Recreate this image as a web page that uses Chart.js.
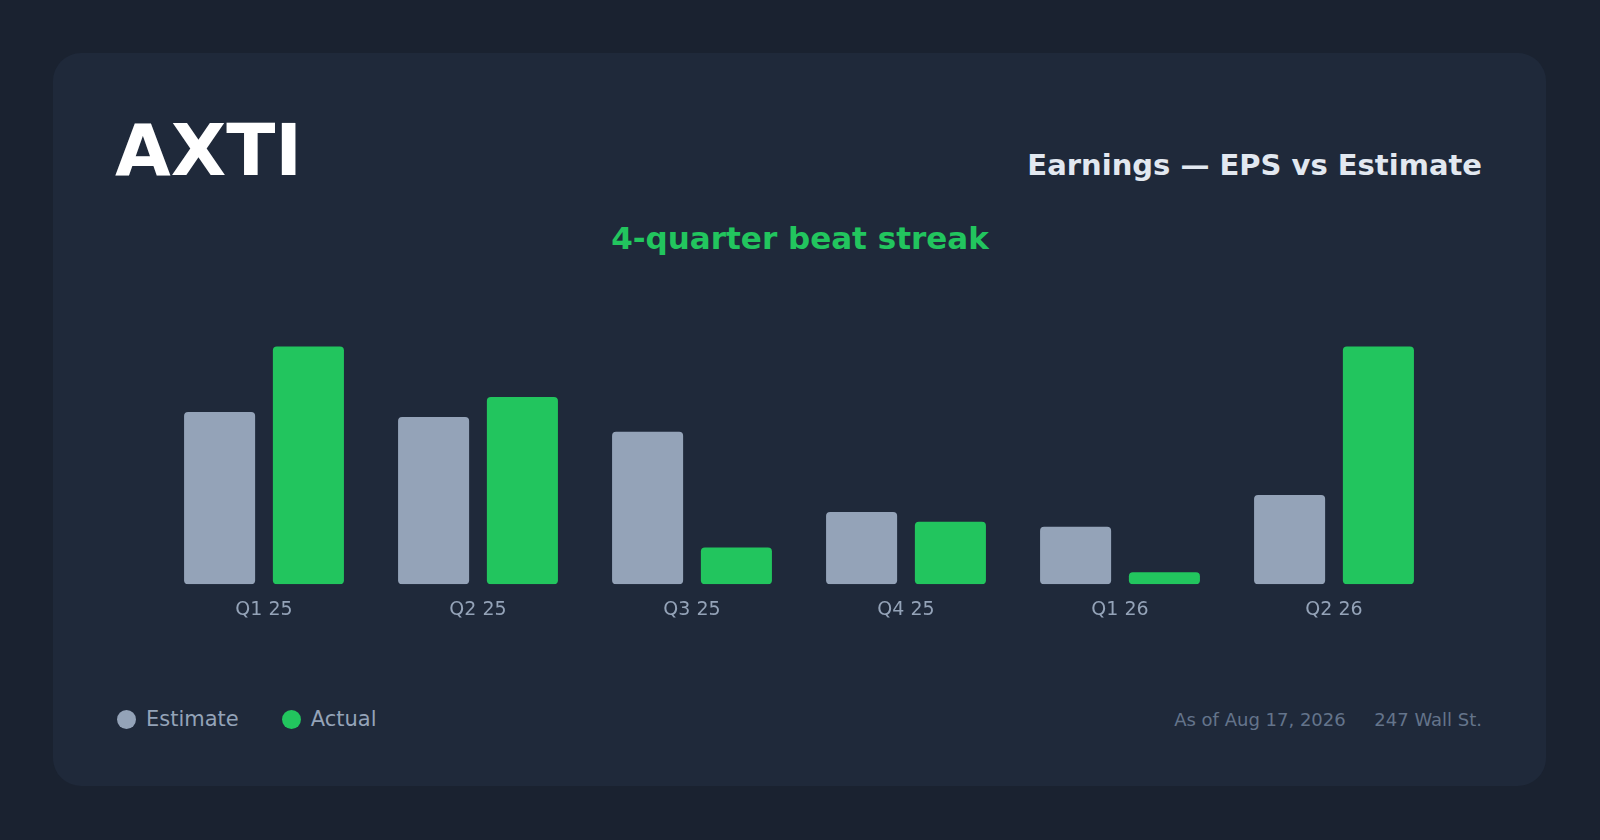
<!DOCTYPE html>
<html><head><meta charset="utf-8">
<script src="https://cdn.jsdelivr.net/npm/chart.js@4/dist/chart.umd.min.js"></script>
<style>
body{margin:0;width:1600px;height:840px;background:#1a2230;font-family:"DejaVu Sans",sans-serif;overflow:hidden;position:relative}
.card{position:absolute;left:53px;top:53px;width:1493px;height:733px;background:#1f293a;border-radius:28px}
.t{position:absolute;white-space:nowrap}
</style></head><body>
<div class="card"></div>
<div class="t" style="left:115px;top:108px;font-size:72px;font-weight:bold;color:#fff">AXTI</div>
<div class="t" style="right:118px;top:148px;font-size:29px;font-weight:bold;color:#e2e8f0">Earnings — EPS vs Estimate</div>
<div class="t" style="left:0;width:1600px;text-align:center;top:220px;font-size:31px;font-weight:bold;color:#22c55e">4-quarter beat streak</div>
<div class="t" style="left:117px;top:707px;font-size:21px;color:#94a3b8"><span style="display:inline-block;width:19px;height:19px;border-radius:50%;background:#94a3b8;vertical-align:-3px;margin-right:10px"></span>Estimate<span style="display:inline-block;width:19px;height:19px;border-radius:50%;background:#22c55e;vertical-align:-3px;margin:0 10px 0 43px"></span>Actual</div>
<div class="t" style="right:118px;top:709px;font-size:18px;color:#64748b">As of Aug 17, 2026&nbsp;&nbsp;&nbsp;&nbsp;&nbsp;247 Wall St.</div>
<div style="position:absolute;left:157px;top:307px;width:1284px;height:320px"><canvas id="c"></canvas></div>
<script>
const categories=["Q1 25","Q2 25","Q3 25","Q4 25","Q1 26","Q2 26"];
const estimate=[0.174,0.169,0.154,0.073,0.058,0.090];
const actual=[0.24,0.189,0.037,0.063,0.012,0.24];
new Chart(document.getElementById('c'),{type:'bar',
data:{labels:categories,datasets:[
{label:'Estimate',data:estimate,backgroundColor:'#94a3b8',borderRadius:4,borderSkipped:false},
{label:'Actual',data:actual,backgroundColor:'#22c55e',borderRadius:4,borderSkipped:false}]},
options:{responsive:true,maintainAspectRatio:false,animation:false,
categoryPercentage:0.83,barPercentage:0.8,
layout:{padding:0},
plugins:{legend:{display:false},tooltip:{enabled:false}},
scales:{x:{grid:{display:false},border:{display:false},ticks:{color:'#94a3b8',font:{size:19,family:'DejaVu Sans'},padding:6}},
y:{display:false,min:0,max:0.28}}}});
</script></body></html>
